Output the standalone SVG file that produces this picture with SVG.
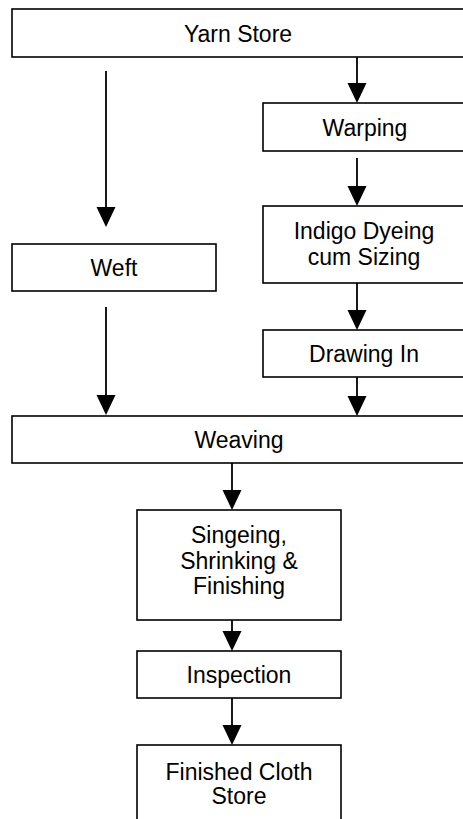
<svg xmlns="http://www.w3.org/2000/svg" width="463" height="819" viewBox="0 0 463 819">
  <style>
    .box { fill: #ffffff; stroke: #000000; stroke-width: 1.6; }
    .lbl { font-family: "Liberation Sans", Arial, sans-serif; font-size: 23px; fill: #000000; text-anchor: middle; }
    .conn { stroke: #000000; stroke-width: 1.8; fill: none; marker-end: url(#ah); }
  </style>
  <defs>
    <marker id="ah" markerUnits="userSpaceOnUse" markerWidth="20" markerHeight="20" viewBox="0 0 20 20" refX="18" refY="10" orient="auto">
      <path d="M0,0.5 L20,10 L0,19.5 z" fill="#000000"/>
    </marker>
  </defs>
  <rect width="463" height="819" fill="#ffffff"/>

  <g id="connectors">
    <line class="conn" x1="106" y1="71" x2="106" y2="225"/>
    <line class="conn" x1="106" y1="307" x2="106" y2="413"/>
    <line class="conn" x1="357" y1="57" x2="357" y2="101"/>
    <line class="conn" x1="357" y1="158" x2="357" y2="204"/>
    <line class="conn" x1="357" y1="283" x2="357" y2="328"/>
    <line class="conn" x1="357" y1="377" x2="357" y2="414"/>
    <line class="conn" x1="232" y1="463" x2="232" y2="508"/>
    <line class="conn" x1="232" y1="620" x2="232" y2="649"/>
    <line class="conn" x1="232" y1="698" x2="232" y2="743"/>
  </g>

  <g id="yarn-store">
    <rect class="box" x="12" y="9" width="454" height="48"/>
    <text class="lbl" x="238" y="41.5">Yarn Store</text>
  </g>
  <g id="warping">
    <rect class="box" x="263" y="103" width="204" height="48"/>
    <text class="lbl" x="365" y="136">Warping</text>
  </g>
  <g id="indigo-dyeing">
    <rect class="box" x="263" y="206" width="204" height="77"/>
    <text class="lbl" x="364" y="238.5">Indigo Dyeing</text>
    <text class="lbl" x="364" y="264.5">cum Sizing</text>
  </g>
  <g id="drawing-in">
    <rect class="box" x="263" y="330" width="204" height="47"/>
    <text class="lbl" x="364" y="362">Drawing In</text>
  </g>
  <g id="weft">
    <rect class="box" x="12" y="244" width="204" height="47"/>
    <text class="lbl" x="114" y="276">Weft</text>
  </g>
  <g id="weaving">
    <rect class="box" x="12" y="416" width="454" height="47"/>
    <text class="lbl" x="239" y="448">Weaving</text>
  </g>
  <g id="singeing">
    <rect class="box" x="137" y="510" width="204" height="110"/>
    <text class="lbl" x="239" y="542.5">Singeing,</text>
    <text class="lbl" x="239" y="568.5">Shrinking &amp;</text>
    <text class="lbl" x="239" y="594">Finishing</text>
  </g>
  <g id="inspection">
    <rect class="box" x="137" y="651" width="204" height="47"/>
    <text class="lbl" x="239" y="683">Inspection</text>
  </g>
  <g id="finished-cloth-store">
    <rect class="box" x="137" y="745" width="204" height="80"/>
    <text class="lbl" x="239" y="780">Finished Cloth</text>
    <text class="lbl" x="239" y="804">Store</text>
  </g>
</svg>
